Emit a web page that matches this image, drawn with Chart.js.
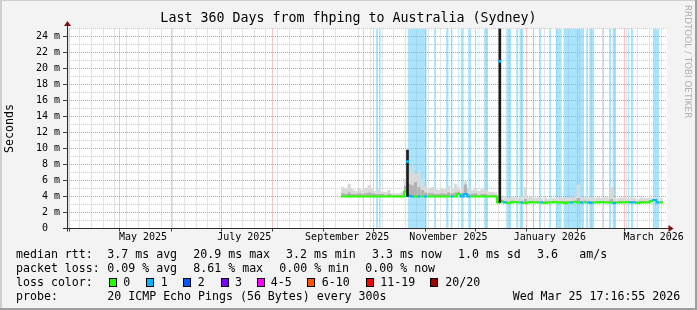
<!DOCTYPE html>
<html>
<head>
<meta charset="utf-8">
<title>Last 360 Days from fhping to Australia (Sydney)</title>
<script src="https://cdn.jsdelivr.net/npm/chart.js"></script>
<style>
  html, body { margin: 0; padding: 0; background: #f3f3f3; }
  canvas { display: block; }
</style>
</head>
<body>
<canvas id="smoke" width="697" height="310"></canvas>
<script>
// x axis is "days since START"; one sample every 2 days from day 165
const START = new Date(2025, 2, 30, 5, 0);
const SPAN_DAYS = 361.4;
const FIRST_DAY = 165;
const STEP_DAYS = 2;
const Y_MAX = 25;

// median rtt (ms)
const median = [
  4.0, 4.0, 4.0, 4.0, 4.0, 4.0, 4.0, 4.0, 4.0, 4.0,
  4.0, 4.0, 4.0, 4.0, 4.0, 4.0, 4.0, 4.0, 4.0, 4.0,
  4.6, 4.1, 4.0, 4.0, 4.0, 4.0, 4.0, 4.0, 4.0, 4.0,
  4.0, 4.0, 4.0, 4.0, 4.0, 4.0, 4.3, 4.0, 4.3, 4.0,
  4.0, 4.0, 4.0, 4.0, 4.0, 4.0, 4.0, 4.0, 3.25, 3.4,
  3.25, 3.2, 3.25, 3.3, 3.25, 3.25, 3.2, 3.25, 3.3, 3.25,
  3.25, 3.25, 3.2, 3.25, 3.25, 3.3, 3.25, 3.25, 3.2, 3.25,
  3.25, 3.3, 3.25, 3.25, 3.25, 3.25, 3.2, 3.25, 3.25, 3.3,
  3.25, 3.25, 3.25, 3.2, 3.25, 3.25, 3.25, 3.3, 3.25, 3.25,
  3.2, 3.25, 3.25, 3.25, 3.45, 3.55, 3.25, 3.25
];
// lost pings per sample (out of 20)
const loss = [
  0, 0, 0, 0, 0, 0, 0, 0, 0, 0,
  0, 0, 0, 0, 0, 0, 0, 0, 0, 0,
  1, 1, 0, 1, 0, 1, 0, 0, 0, 0,
  0, 0, 0, 1, 0, 0, 1, 1, 1, 0,
  0, 0, 0, 0, 0, 0, 0, 0, 0, 1,
  0, 0, 0, 0, 1, 0, 0, 0, 0, 0,
  1, 0, 0, 0, 0, 0, 0, 0, 0, 1,
  0, 0, 1, 0, 1, 1, 0, 0, 0, 0,
  0, 0, 1, 0, 0, 0, 0, 1, 1, 0,
  0, 0, 0, 0, 1, 1, 0, 0
];
// dense part of the smoke
const smokeCore = [
  4.3, 4.4, 4.3, 4.5, 4.3, 4.3, 4.4, 4.3, 4.4, 4.5,
  4.4, 4.3, 4.3, 4.3, 4.2, 4.3, 4.2, 4.2, 4.2, 4.2,
  5.3, 5.6, 5.4, 5.8, 5.2, 4.8, 4.5, 4.4, 4.4, 4.3,
  4.3, 4.4, 4.3, 4.5, 4.4, 4.5, 4.6, 4.4, 5.5, 4.3,
  4.3, 4.4, 4.2, 4.3, 4.3, 4.2, 4.2, 4.2, 3.45, 3.6,
  3.45, 3.4, 3.5, 3.45, 3.4, 3.45, 3.7, 3.4, 3.45, 3.4,
  3.45, 3.4, 3.45, 3.4, 3.4, 3.4, 3.45, 3.4, 3.45, 3.4,
  3.45, 3.5, 3.8, 3.45, 3.5, 3.4, 3.45, 3.4, 3.45, 3.4,
  3.45, 3.45, 3.7, 3.45, 3.4, 3.45, 3.4, 3.4, 3.45, 3.4,
  3.4, 3.45, 3.4, 3.4, 3.55, 3.65, 3.4, 3.4
];
// outer edge of the smoke
const smokeTop = [
  4.8, 5.2, 5.0, 5.6, 4.9, 4.7, 5.0, 4.8, 5.1, 5.4,
  5.0, 4.7, 4.9, 4.6, 4.6, 4.8, 4.4, 4.4, 4.4, 4.5,
  6.2, 7.0, 7.7, 6.8, 7.2, 6.2, 5.3, 5.0, 5.2, 4.9,
  4.8, 5.0, 4.9, 5.3, 5.0, 5.6, 5.2, 5.0, 5.9, 5.0,
  4.8, 5.1, 4.7, 5.0, 4.8, 4.6, 4.6, 4.5, 3.9, 4.1,
  3.9, 3.8, 4.0, 3.9, 3.8, 4.0, 5.2, 3.9, 4.0, 3.8,
  3.9, 3.8, 3.9, 3.7, 3.8, 3.8, 3.9, 3.8, 3.9, 3.8,
  3.9, 4.0, 5.5, 3.9, 3.9, 3.8, 3.9, 3.8, 3.9, 3.8,
  3.9, 3.9, 5.2, 3.9, 3.8, 3.9, 3.8, 3.8, 3.9, 3.8,
  3.7, 3.9, 3.8, 3.8, 3.8, 3.9, 3.8, 3.8
];

// the two short excursions
const spikeDays = [205.1, 260.7];
const spikeLow = [4.0, 3.25];
const spikeHigh = [9.8, 25];
const spikeMedian = [8.35, 20.9];

// light blue columns [from, to] in days
const lossBands = [
  [178.1, 178.9], [186.1, 187.3], [187.9, 189.0], [205.2, 216.7], [221.1, 222.3],
  [228.3, 229.9], [231.1, 232.3], [235.4, 236.0], [237.3, 238.6], [241.6, 243.4],
  [247.8, 248.4], [251.2, 253.6], [264.5, 267.5], [270.5, 271.9], [272.5, 274.9],
  [280.5, 281.5], [284.3, 285.7], [290.4, 291.6], [294.4, 298.0], [299.0, 311.4],
  [312.7, 314.0], [314.5, 317.5], [322.7, 323.5], [326.3, 327.7], [328.5, 330.7],
  [337.7, 338.5], [339.6, 341.1], [352.8, 356.8]
];

const xLabels = ['May 2025', 'July 2025', 'September 2025', 'November 2025', 'January 2026', 'March 2026'];
const xLabelDates = [
  new Date(2025, 4, 15), new Date(2025, 6, 15), new Date(2025, 8, 15),
  new Date(2025, 10, 15), new Date(2026, 0, 15), new Date(2026, 2, 18, 14)
];

const lossLabels = ['0', '1', '2', '3', '4-5', '6-10', '11-19', '20/20'];
const lossColors = ['#26ff00', '#00b8ff', '#0059ff', '#7e00ff', '#ff00ff', '#ff5500', '#ff0000', '#a00000'];
const medianStats = ['3.7 ms avg', '20.9 ms max', '3.2 ms min', '3.3 ms now', '1.0 ms sd', '3.6', 'am/s'];
const lossStats = ['0.09 % avg', '8.61 % max', '0.00 % min', '0.00 % now'];
const probeText = '20 ICMP Echo Pings (56 Bytes) every 300s';
const stampText = 'Wed Mar 25 17:16:55 2026';

const MONO = '"DejaVu Sans Mono", "Liberation Mono", monospace';
const RED_GRID = '#ee8a8a';
const GRAY_GRID = '#cacaca';

// ---- x ticks: month starts (major), Mondays (minor), label positions ----
const DAY = 86400000;
const dayOf = d => (d - START) / DAY;
const tickKey = v => v.toFixed(3);
const xTickKind = new Map();
const xTickText = new Map();

function addTick(day, kind, text) {
  if (day < 0 || day > SPAN_DAYS) return;
  const k = tickKey(day);
  if (!xTickKind.has(k) || kind !== 'week') xTickKind.set(k, kind);
  if (text) xTickText.set(k, text);
}
for (let d = new Date(2025, 2, 31); dayOf(d) <= SPAN_DAYS; d.setDate(d.getDate() + 7)) {
  addTick(dayOf(d), 'week');
}
for (let m = 0; m < 13; m++) addTick(dayOf(new Date(2025, 3 + m, 1)), 'month');
xLabelDates.forEach((d, i) => addTick(dayOf(d), 'label', xLabels[i]));
const xTickValues = [...xTickKind.keys()].map(Number).sort((a, b) => a - b);

// ---- datasets ----
const days = median.map((_, i) => FIRST_DAY + i * STEP_DAYS);
const pts = arr => arr.map((v, i) => ({ x: days[i], y: v }));

const bandPoints = [];
lossBands.forEach(([s, e]) => {
  bandPoints.push({ x: s, y: Y_MAX }, { x: e, y: Y_MAX }, { x: e, y: null });
});

// ---- plugins ----
const frame = {
  id: 'frame',
  beforeDraw(chart) {
    const { ctx, width, height, chartArea: a } = chart;
    ctx.save();
    ctx.fillStyle = '#f3f3f3';
    ctx.fillRect(0, 0, width, height);
    ctx.fillStyle = '#cfcfcf';
    ctx.fillRect(0, 0, width, 1);
    ctx.fillRect(0, 0, 2, height);
    ctx.fillStyle = '#9e9e9e';
    ctx.fillRect(width - 2, 0, 2, height);
    ctx.fillRect(0, height - 2, width, 2);
    ctx.fillStyle = '#ffffff';
    ctx.fillRect(a.left, a.top, a.right - a.left, a.bottom - a.top);
    ctx.restore();
  }
};

const axes = {
  id: 'axes',
  afterDatasetsDraw(chart) {
    const { ctx, chartArea: a } = chart;
    const x0 = Math.round(a.left) + 0.5;
    const y0 = Math.round(a.bottom - 0.5) + 0.5;
    ctx.save();
    ctx.strokeStyle = '#2b2b2b';
    ctx.lineWidth = 1;
    ctx.beginPath();
    ctx.moveTo(a.left - 4, y0);
    ctx.lineTo(a.right + 2, y0);
    ctx.moveTo(x0, a.bottom + 3);
    ctx.lineTo(x0, a.top - 3);
    ctx.stroke();
    ctx.fillStyle = '#7f1010';
    ctx.beginPath();
    ctx.moveTo(x0 - 3.5, a.top - 2.5);
    ctx.lineTo(x0 + 3.5, a.top - 2.5);
    ctx.lineTo(x0, a.top - 7.5);
    ctx.fill();
    ctx.beginPath();
    ctx.moveTo(a.right + 1.5, y0 - 3.5);
    ctx.lineTo(a.right + 1.5, y0 + 3.5);
    ctx.lineTo(a.right + 6.5, y0);
    ctx.fill();
    ctx.restore();
  }
};

const rrdText = {
  id: 'rrdText',
  afterDraw(chart) {
    const { ctx } = chart;
    ctx.save();
    ctx.fillStyle = '#000';
    ctx.font = '11.6px ' + MONO;
    ctx.textBaseline = 'middle';
    ctx.textAlign = 'left';

    const rows = [254.5, 268.6, 282.7, 296.8];
    const medX = [107.3, 193.3, 286, 372, 458, 537, 579.3];
    const lossX = [107.3, 193.3, 279.3, 365.3];
    ctx.fillText('median rtt:', 16, rows[0]);
    medianStats.forEach((t, i) => ctx.fillText(t, medX[i], rows[0]));
    ctx.fillText('packet loss:', 16, rows[1]);
    lossStats.forEach((t, i) => ctx.fillText(t, lossX[i], rows[1]));

    ctx.fillText('loss color:', 16, rows[2]);
    const boxX = [108.7, 146, 183.3, 220.7, 256.7, 307.3, 366.3, 430.3];
    const boxTextX = [123.3, 160.7, 197.7, 235, 270.7, 321.7, 380.3, 445.3];
    lossLabels.forEach((t, i) => {
      const bx = Math.round(boxX[i]);
      ctx.fillStyle = lossColors[i];
      ctx.fillRect(bx, 278, 8, 9);
      ctx.strokeStyle = '#000';
      ctx.lineWidth = 1;
      ctx.strokeRect(bx + 0.5, 278.5, 7, 8);
      ctx.fillStyle = '#000';
      ctx.fillText(t, boxTextX[i], rows[2]);
    });

    ctx.fillText('probe:', 16, rows[3]);
    ctx.fillText(probeText, 107.3, rows[3]);
    ctx.fillText(stampText, 512.7, rows[3]);

    // vertical credit on the right edge
    ctx.fillStyle = '#b3b3b3';
    ctx.font = '8.8px "DejaVu Sans", sans-serif';
    ctx.translate(687, 5);
    ctx.rotate(Math.PI / 2);
    ctx.textBaseline = 'middle';
    ctx.fillText('RRDTOOL / TOBI OETIKER', 0, 0);
    ctx.restore();
  }
};

new Chart(document.getElementById('smoke'), {
  type: 'line',
  data: {
    datasets: [
      {
        label: 'median at spikes',
        data: spikeDays.map((d, i) => ({ x: d, y: spikeMedian[i] })),
        showLine: false,
        pointStyle: 'rect',
        pointRadius: 2,
        pointBorderWidth: 0,
        pointBackgroundColor: lossColors[1],
        order: 0
      },
      {
        type: 'bar',
        label: 'spikes',
        data: spikeDays.map((d, i) => ({ x: d, y: [spikeLow[i], spikeHigh[i]] })),
        backgroundColor: '#1c1c1c',
        barThickness: 2,
        grouped: false,
        order: 1
      },
      {
        label: 'median',
        data: pts(median),
        stepped: 'after',
        borderWidth: 2,
        pointRadius: 0,
        fill: false,
        borderColor: lossColors[0],
        segment: { borderColor: c => lossColors[loss[c.p0DataIndex]] },
        order: 2
      },
      {
        label: 'smoke core',
        data: pts(smokeCore),
        stepped: 'after',
        borderWidth: 0,
        pointRadius: 0,
        fill: 2,
        backgroundColor: '#b2b2b2',
        order: 3
      },
      {
        label: 'smoke',
        data: pts(smokeTop),
        stepped: 'after',
        borderWidth: 0,
        pointRadius: 0,
        fill: 2,
        backgroundColor: '#dadada',
        order: 4
      },
      {
        label: 'bands',
        data: bandPoints,
        borderWidth: 0,
        pointRadius: 0,
        spanGaps: false,
        fill: 'origin',
        backgroundColor: 'rgba(85, 201, 249, 0.5)',
        order: 5
      }
    ]
  },
  options: {
    responsive: false,
    animation: false,
    devicePixelRatio: 1,
    events: [],
    layout: { padding: 0 },
    plugins: {
      legend: { display: false },
      tooltip: { enabled: false },
      title: {
        display: true,
        text: 'Last 360 Days from fhping to Australia (Sydney)',
        color: '#000',
        font: { family: MONO, size: 13.3, weight: 'normal', lineHeight: 1 },
        padding: { top: 12, bottom: 3.2 }
      }
    },
    scales: {
      x: {
        type: 'linear',
        min: 0,
        max: SPAN_DAYS,
        bounds: 'data',
        offset: false,
        afterBuildTicks: s => { s.ticks = xTickValues.map(v => ({ value: v })); },
        afterFit: s => { s.height = 81.5; s.paddingLeft = 0; s.paddingRight = 0; },
        ticks: {
          autoSkip: false,
          maxRotation: 0,
          minRotation: 0,
          padding: 0,
          color: '#000',
          font: { family: MONO, size: 10 },
          callback: v => xTickText.get(tickKey(v)) || ''
        },
        grid: {
          offset: false,
          tickLength: 3,
          color: c => {
            const k = xTickKind.get(tickKey(c.tick.value));
            return k === 'month' ? RED_GRID : k === 'week' ? GRAY_GRID : 'rgba(0,0,0,0)';
          },
          tickColor: c => xTickKind.get(tickKey(c.tick.value)) === 'month' ? '#444' : 'rgba(0,0,0,0)'
        },
        border: { display: false, dash: [1, 1] }
      },
      y: {
        type: 'linear',
        min: 0,
        max: Y_MAX,
        bounds: 'data',
        afterFit: s => { s.width = 67; },
        ticks: {
          stepSize: 1,
          autoSkip: false,
          padding: 3,
          color: '#000',
          font: { family: MONO, size: 10 },
          callback: v => (v % 2 ? '' : v === 0 ? '0  ' : v + ' m')
        },
        grid: {
          tickLength: 4,
          color: c => (c.tick.value === 0 ? 'rgba(0,0,0,0)' : c.tick.value % 2 ? GRAY_GRID : RED_GRID),
          tickColor: c => (c.tick.value % 2 ? 'rgba(0,0,0,0)' : '#444')
        },
        border: { display: false, dash: [1, 1] },
        title: {
          display: true,
          text: 'Seconds',
          color: '#000',
          font: { family: MONO, size: 11.6 },
          padding: { top: 3, bottom: 0 }
        }
      },
      yr: {
        type: 'linear',
        position: 'right',
        display: true,
        grid: { display: false },
        ticks: { display: false },
        border: { display: false },
        afterFit: s => { s.width = 30; }
      }
    }
  },
  plugins: [frame, axes, rrdText]
});
</script>
</body>
</html>
